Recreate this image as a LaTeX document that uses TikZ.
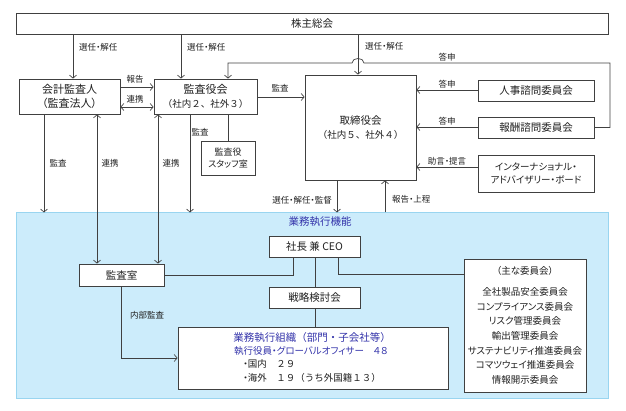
\documentclass[tikz,border=0pt]{standalone}
\usepackage{fontspec}
\setmainfont{Noto Sans CJK JP}[RawFeature=+palt]
\newfontfamily\fullw{Noto Sans CJK JP}
\usetikzlibrary{arrows.meta}
\definecolor{ln}{HTML}{404040}
\definecolor{txt}{HTML}{202020}
\definecolor{bfill}{HTML}{CCECFB}
\definecolor{bdraw}{HTML}{99D5F0}
\definecolor{btext}{HTML}{3333AA}
\tikzset{
  box/.style={draw=ln, line width=0.8pt, fill=white, inner sep=0pt, align=center, text=txt, font=\fontsize{10.5}{13}\selectfont},
  lab/.style={font=\fontsize{8.5}{10}\selectfont, text=txt, inner sep=1pt},
  conn/.style={draw=ln, line width=0.7pt},
  arr/.style={conn, -{Straight Barb[length=3pt,width=7pt]}},
  darr/.style={conn, {Straight Barb[length=3pt,width=7pt]}-{Straight Barb[length=3pt,width=7pt]}},
}
\begin{document}
\begin{tikzpicture}[x=1pt,y=-1pt]
\useasboundingbox (0,0) rectangle (626,411);
% helper coordinates
\coordinate (x44) at (44,0);
\coordinate (x73) at (73,0);
\coordinate (x97) at (97,0);
\coordinate (x121) at (121,0);
\coordinate (x158) at (158,0);
\coordinate (x181) at (181,0);
\coordinate (x190) at (190,0);
\coordinate (x228) at (228,0);
\coordinate (x293) at (293,0);
\coordinate (x315) at (315,0);
\coordinate (x337) at (337,0);
\coordinate (x338) at (338,0);
\coordinate (x358) at (358,0);
\coordinate (x385) at (385,0);
\coordinate (y87) at (0,87);
\coordinate (y107) at (0,107);
\coordinate (y97) at (0,97);
\coordinate (y90) at (0,90);
\coordinate (y127) at (0,127);
\coordinate (y167) at (0,167);
\coordinate (y274) at (0,274);
\coordinate (y359) at (0,359);

% execution area
\node[draw=bdraw, fill=bfill, line width=1pt, minimum width=592pt, minimum height=185pt, inner sep=0pt] (exec) at (312,305.5) {};
\node[font=\fontsize{10.5}{12}\selectfont, text=btext, inner sep=0pt] (execT) at (320,222) {業務執行機能};

% top nodes
\node[box, minimum width=592pt, minimum height=21pt] (share) at (312,23.5) {株主総会};
\node[box, minimum width=101pt, minimum height=35pt, font=\fontsize{11}{13.5}\selectfont] (audit) at (69.5,96.5) {会計監査人\\（監査法人）};
\node[box, minimum width=103pt, minimum height=35pt, font=\fontsize{11}{13.5}\selectfont] (kansa) at (205.5,96.5) {監査役会\\{\fullw\fontsize{9.5}{13.5}\selectfont （社内２、社外３）}};
\node[box, minimum width=54pt, minimum height=34pt, font=\fontsize{9}{12}\selectfont] (staff) at (228,158) {監査役\\スタッフ室};
\node[box, minimum width=111pt, minimum height=105pt, font=\fontsize{10.5}{14}\selectfont] (board) at (360.5,127.5) {取締役会\\{\fullw\fontsize{9.5}{14}\selectfont （社内５、社外４）}};
\node[box, minimum width=116pt, minimum height=21pt] (jinji) at (536,90.5) {人事諮問委員会};
\node[box, minimum width=116pt, minimum height=21pt] (hoshu) at (536,127.5) {報酬諮問委員会};
\node[box, minimum width=116pt, minimum height=37pt, font=\fontsize{9.5}{13}\selectfont] (iab) at (536,173.5) {インターナショナル・\\アドバイザリー・ボード};

% inner nodes
\node[box, minimum width=91pt, minimum height=21pt] (ceo) at (314.5,246.5) {社長 兼 CEO};
\node[box, minimum width=85pt, minimum height=22pt] (shitsu) at (121.5,275) {監査室};
\node[box, minimum width=91pt, minimum height=21pt] (senryaku) at (314.5,297.5) {戦略検討会};
\node[box, minimum width=270pt, minimum height=62pt] (org) at (313,358) {};
\node[font=\fullw\fontsize{10.5}{12}\selectfont, text=btext, inner sep=0pt] (orgA) at (312,338) {業務執行組織（部門・子会社等）};
\node[font=\fontsize{9.5}{12}\selectfont, text=btext, inner sep=0pt] (orgB) at (311,351) {執行役員・グローバルオフィサー　４８};
\node[font=\fullw\fontsize{9.5}{12}\selectfont, text=txt, inner sep=0pt, anchor=west] (orgC) at (243,364) {{\normalfont ・}国内　２９};
\node[font=\fullw\fontsize{9.5}{12}\selectfont, text=txt, inner sep=0pt, anchor=west] (orgD) at (243,378) {{\normalfont ・}海外　１９（うち外国籍１３）};
\node[box, minimum width=122pt, minimum height=133pt, font=\fontsize{9.5}{14.7}\selectfont] (iinkai) at (525,325.5) {（主な委員会）\\[6pt]全社製品安全委員会\\コンプライアンス委員会\\リスク管理委員会\\輸出管理委員会\\サステナビリティ推進委員会\\コマツウェイ推進委員会\\情報開示委員会};

% shareholders' meeting arrows
\draw[arr] (share.south -| x73) -- (audit.north -| x73);
\node[lab, anchor=west] (l1) at (78,47) {選任・解任};
\draw[arr] (share.south -| x181) -- (kansa.north -| x181);
\node[lab, anchor=west] (l2) at (186,47) {選任・解任};
\draw[arr] (share.south -| x358) -- (board.north -| x358);
\node[lab, anchor=west] (l3) at (364,46) {選任・解任};

% answer loop from compensation committee
\draw[arr] (hoshu.east) -- (610,127.5) -- (610,63) -- (364,63) .. controls (364,57) and (352,57) .. (352,63) -- (228,63) -- (kansa.north -| x228);
\node[lab] (l4) at (447,57) {答申};

% audit firm <-> board of auditors
\draw[arr] (audit.east |- y87) -- (kansa.west |- y87);
\node[lab] (l5) at (135,79) {報告};
\draw[darr] (audit.east |- y107) -- (kansa.west |- y107);
\node[lab] (l6) at (135,99) {連携};

% auditors -> board
\draw[arr] (kansa.east |- y97) -- (board.west |- y97);
\node[lab] (l7) at (280,88) {監査};
\draw[conn] (kansa.south -| x228) -- (staff.north -| x228);

% vertical links
\draw[arr] (audit.south -| x44) -- (exec.north -| x44);
\node[lab] (l8) at (58,163) {監査};
\draw[darr] (audit.south -| x97) -- (shitsu.north -| x97);
\node[lab] (l9) at (110,163) {連携};
\draw[darr] (kansa.south -| x158) -- (shitsu.north -| x158);
\node[lab] (l10) at (171,163) {連携};
\draw[arr] (kansa.south -| x190) -- (exec.north -| x190);
\node[lab] (l11) at (200,132) {監査};

% board <-> execution
\draw[arr] (board.south -| x337) -- (exec.north -| x337);
\node[lab, anchor=east] (l12) at (333,200) {選任・解任・監督};
\draw[arr] (exec.north -| x385) -- (board.south -| x385);
\node[lab, anchor=west] (l13) at (391,199) {報告・上程};

% advisory committees -> board
\draw[arr] (jinji.west |- y90) -- (board.east |- y90);
\node[lab] (l14) at (447,84) {答申};
\draw[arr] (hoshu.west |- y127) -- (board.east |- y127);
\node[lab] (l15) at (447,121) {答申};
\draw[arr] (iab.west |- y167) -- (board.east |- y167);
\node[lab] (l16) at (447,161) {助言・提言};

% inside execution
\draw[conn] (ceo.south -| x293) |- (shitsu.east);
\draw[conn] (ceo.south -| x315) -- (senryaku.north -| x315);
\draw[conn] (senryaku.south -| x315) -- (org.north -| x315);
\draw[conn] (ceo.south -| x338) |- (iinkai.west |- y274);
\draw[arr] (shitsu.south -| x121) |- (org.west);
\node[lab] (l17) at (147,315) {内部監査};
\end{tikzpicture}
\end{document}
